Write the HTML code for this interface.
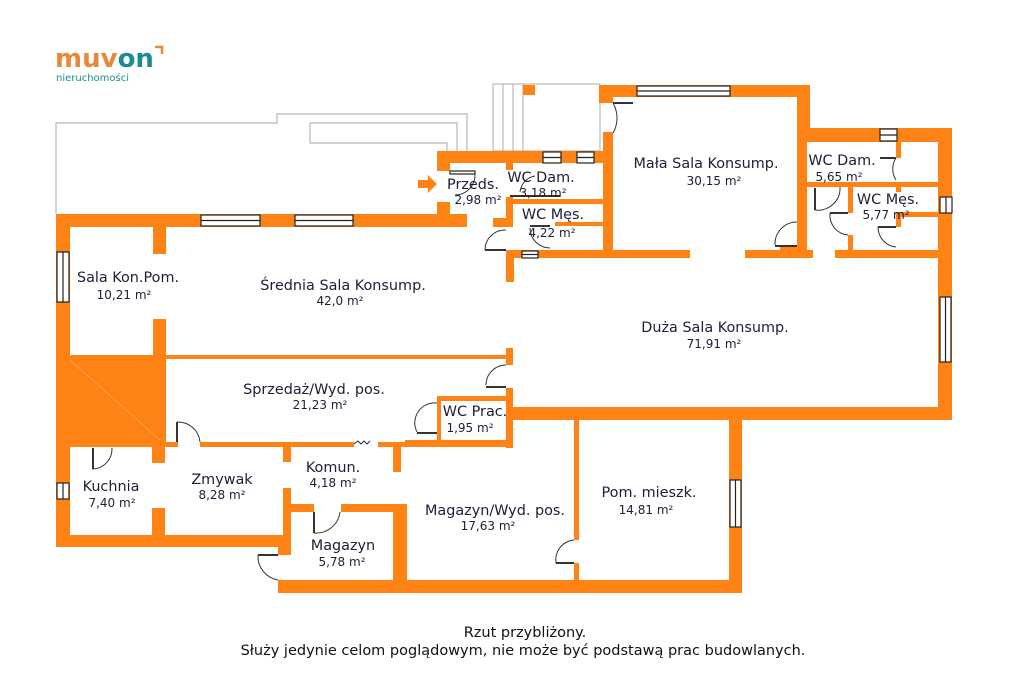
<!DOCTYPE html>
<html><head><meta charset="utf-8"><style>
html,body{margin:0;padding:0;background:#fff;width:1024px;height:698px;overflow:hidden}
svg{display:block}
text{font-family:"DejaVu Sans","Liberation Sans",sans-serif;fill:#1a1f3a}
.n{font-size:14.4px}.a{font-size:12px}
</style></head><body>
<svg width="1024" height="698" viewBox="0 0 1024 698" xmlns="http://www.w3.org/2000/svg">
<text x="55" y="67" style="font-size:26px;fill:#e8893a;font-family:'DejaVu Sans',sans-serif;font-weight:bold">muv<tspan style="fill:#1e8a93">on</tspan></text>
<path d="M155 47 h7 v7" fill="none" stroke="#e8893a" stroke-width="2.5"/>
<text x="56" y="81" style="font-size:10px;fill:#1e8a93;font-family:'DejaVu Sans',sans-serif">nieruchomości</text>

<g fill="none" stroke="#b8b8b8" stroke-width="1.2">
<polyline points="56,214 56,123 277,123 277,114 467,114 467,151"/>
<polyline points="310,123 457,123 457,151"/>
<polyline points="310,123 310,143 447,143 447,151"/>
<rect x="493" y="84" width="107" height="67"/>
<line x1="503" y1="84" x2="503" y2="151"/><line x1="513" y1="84" x2="513" y2="151"/><line x1="523" y1="84" x2="523" y2="151"/>
</g>

<g fill="#ff8214">
<rect x="56" y="214" width="411" height="13"/>
<rect x="437" y="151" width="176" height="12"/>
<rect x="437" y="163" width="13" height="8"/>
<rect x="437" y="202" width="13" height="25"/>
<rect x="523" y="85" width="12" height="10"/>
<rect x="506" y="163" width="7" height="7"/>
<rect x="506" y="197" width="7" height="30"/>
<rect x="493" y="218" width="20" height="9"/>
<rect x="506" y="250" width="8" height="32"/>
<rect x="513" y="199" width="90" height="5"/>
<rect x="555" y="222" width="48" height="4"/>
<rect x="506" y="250" width="184" height="8"/>
<rect x="745" y="250" width="68" height="8"/>
<rect x="599" y="85" width="208" height="12"/>
<rect x="599" y="85" width="14" height="18"/>
<rect x="603" y="132" width="10" height="126"/>
<rect x="797" y="85" width="13" height="56"/>
<rect x="797" y="128" width="155" height="14"/>
<rect x="797" y="128" width="10" height="130"/>
<rect x="780" y="246" width="27" height="12"/>
<rect x="938" y="128" width="14" height="292"/>
<rect x="807" y="182" width="133" height="5"/>
<rect x="896" y="142" width="5" height="16"/>
<rect x="848" y="187" width="5" height="26"/>
<rect x="848" y="235" width="5" height="23"/>
<rect x="896" y="187" width="5" height="5"/>
<rect x="896" y="212" width="44" height="5"/>
<rect x="896" y="212" width="5" height="15"/>
<rect x="835" y="250" width="117" height="8"/>
<rect x="56" y="214" width="14" height="333"/>
<rect x="153" y="227" width="13" height="27"/>
<rect x="153" y="319" width="13" height="37"/>
<rect x="56" y="355" width="110" height="92"/>
<rect x="166" y="355" width="341" height="4"/>
<rect x="506" y="348" width="7" height="17"/>
<rect x="506" y="388" width="7" height="60"/>
<rect x="506" y="407" width="446" height="13"/>
<rect x="437" y="396" width="76" height="5"/>
<rect x="437" y="396" width="4" height="51"/>
<rect x="405" y="440" width="108" height="7"/>
<rect x="166" y="442" width="12" height="5"/>
<rect x="200" y="442" width="154" height="5"/>
<rect x="378" y="442" width="62" height="5"/>
<rect x="152" y="447" width="13" height="16"/>
<rect x="152" y="508" width="13" height="29"/>
<rect x="283" y="446" width="8" height="16"/>
<rect x="283" y="488" width="8" height="67"/>
<rect x="393" y="446" width="8" height="26"/>
<rect x="56" y="535" width="235" height="12"/>
<rect x="278" y="535" width="13" height="20"/>
<rect x="291" y="504" width="23" height="8"/>
<rect x="341" y="504" width="66" height="8"/>
<rect x="393" y="504" width="14" height="76"/>
<rect x="278" y="580" width="464" height="13"/>
<rect x="574" y="420" width="5" height="120"/>
<rect x="574" y="563" width="5" height="17"/>
<rect x="729" y="407" width="13" height="186"/>
</g>
<line x1="70" y1="360" x2="160" y2="440" stroke="#ffa050" stroke-width="1"/>

<g fill="#fff" stroke="#222" stroke-width="1.2">
<rect x="201" y="215" width="59" height="11"/><line x1="201" y1="220.5" x2="260" y2="220.5"/>
<rect x="295" y="215" width="58" height="11"/><line x1="295" y1="220.5" x2="353" y2="220.5"/>
<rect x="637" y="86" width="93" height="10"/><line x1="637" y1="91" x2="730" y2="91"/>
<rect x="543" y="152" width="18" height="11"/><line x1="543" y1="157.5" x2="561" y2="157.5"/>
<rect x="577" y="152" width="17" height="11"/><line x1="577" y1="157.5" x2="594" y2="157.5"/>
<rect x="522" y="251" width="16" height="7"/><line x1="522" y1="254.5" x2="538" y2="254.5"/>
<rect x="880" y="129" width="17" height="12"/><line x1="880" y1="135" x2="897" y2="135"/>
<rect x="940" y="197" width="12" height="16"/><line x1="946" y1="197" x2="946" y2="213"/>
<rect x="940" y="297" width="11" height="65"/><line x1="945.5" y1="297" x2="945.5" y2="362"/>
<rect x="57" y="252" width="12" height="50"/><line x1="63" y1="252" x2="63" y2="302"/>
<rect x="57" y="483" width="12" height="16"/><line x1="63" y1="483" x2="63" y2="499"/>
<rect x="730" y="480" width="11" height="47"/><line x1="735.5" y1="480" x2="735.5" y2="527"/>
<rect x="450" y="171" width="25" height="3"/>
</g>

<g fill="none" stroke="#333" stroke-width="1">
<path d="M613 103 A30 30 0 0 1 613 133"/><line x1="613" y1="103" x2="633" y2="103" stroke-width="2"/>
<path d="M506 230 A20 20 0 0 0 485 250"/><line x1="485" y1="250" x2="506" y2="250" stroke-width="2"/>
<path d="M475 174 A20 20 0 0 1 455 195"/>
<path d="M520 192 A18 18 0 0 1 535 176"/><line x1="510" y1="196" x2="560" y2="196" stroke-width="2"/>
<path d="M530 228 A20 20 0 0 0 550 248"/><line x1="530" y1="226" x2="550" y2="226" stroke-width="2"/>
<path d="M797 222 A22 22 0 0 0 775 245"/><line x1="775" y1="246" x2="797" y2="246" stroke-width="2"/>
<path d="M896 158 A20 20 0 0 0 896 180"/><line x1="880" y1="158" x2="896" y2="158" stroke-width="2"/>
<path d="M815 210 A22 22 0 0 0 840 187"/><line x1="815" y1="188" x2="815" y2="210" stroke-width="2"/>
<path d="M830 213 A20 20 0 0 0 848 235"/><line x1="830" y1="213" x2="848" y2="213" stroke-width="2"/>
<path d="M878 227 A20 20 0 0 0 896 247"/><line x1="878" y1="227" x2="896" y2="227" stroke-width="2"/>
<path d="M506 365 A20 20 0 0 0 486 385"/><line x1="486" y1="387" x2="506" y2="387" stroke-width="2"/>
<path d="M437 403 A20 20 0 0 0 417 432"/><line x1="417" y1="433" x2="437" y2="433" stroke-width="2"/>
<path d="M177 422 A22 22 0 0 1 200 442"/><line x1="177" y1="422" x2="177" y2="442" stroke-width="2"/>
<path d="M92 469 A20 20 0 0 0 112 448"/><line x1="93" y1="448" x2="93" y2="469" stroke-width="2"/>
<path d="M314 533 A24 24 0 0 0 340 512"/><line x1="314" y1="512" x2="314" y2="533" stroke-width="2"/>
<path d="M258 555 A24 24 0 0 0 278 580"/><line x1="258" y1="555" x2="278" y2="555" stroke-width="2"/>
<path d="M574 540 A20 20 0 0 0 556 563"/><line x1="556" y1="563" x2="574" y2="563" stroke-width="2"/>
<path d="M354 444 l4 -3 l3 3 l3 -3 l3 3 l3 -3" />
</g>
<path d="M418 180 h10 v-5 l9 9 l-9 9 v-5 h-10z" fill="#ff8214"/>

<g text-anchor="middle">
<text class="n" x="473" y="189">Przeds.</text><text class="a" x="478" y="204">2,98 m²</text>
<text class="n" x="541" y="182">WC Dam.</text><text class="a" x="543" y="197">3,18 m²</text>
<text class="n" x="553" y="219">WC Męs.</text><text class="a" x="552" y="237">4,22 m²</text>
<text class="n" x="706" y="168">Mała Sala Konsump.</text><text class="a" x="714" y="185">30,15 m²</text>
<text class="n" x="842" y="165">WC Dam.</text><text class="a" x="839" y="181">5,65 m²</text>
<text class="n" x="888" y="204">WC Męs.</text><text class="a" x="886" y="219">5,77 m²</text>
<text class="n" x="128" y="282">Sala Kon.Pom.</text><text class="a" x="124" y="299">10,21 m²</text>
<text class="n" x="343" y="290">Średnia Sala Konsump.</text><text class="a" x="340" y="305">42,0 m²</text>
<text class="n" x="715" y="332">Duża Sala Konsump.</text><text class="a" x="714" y="348">71,91 m²</text>
<text class="n" x="314" y="394">Sprzedaż/Wyd. pos.</text><text class="a" x="320" y="409">21,23 m²</text>
<text class="n" x="475" y="416">WC Prac.</text><text class="a" x="470" y="432">1,95 m²</text>
<text class="n" x="111" y="491">Kuchnia</text><text class="a" x="112" y="507">7,40 m²</text>
<text class="n" x="222" y="484">Zmywak</text><text class="a" x="222" y="499">8,28 m²</text>
<text class="n" x="333" y="472">Komun.</text><text class="a" x="333" y="487">4,18 m²</text>
<text class="n" x="495" y="515">Magazyn/Wyd. pos.</text><text class="a" x="488" y="530">17,63 m²</text>
<text class="n" x="649" y="497">Pom. mieszk.</text><text class="a" x="646" y="514">14,81 m²</text>
<text class="n" x="343" y="550">Magazyn</text><text class="a" x="342" y="566">5,78 m²</text>
<text x="525" y="637" style="font-size:14.5px;fill:#111">Rzut przybliżony.</text>
<text x="523" y="655" style="font-size:14.5px;fill:#111">Służy jedynie celom poglądowym, nie może być podstawą prac budowlanych.</text>
</g>
</svg>
</body></html>
